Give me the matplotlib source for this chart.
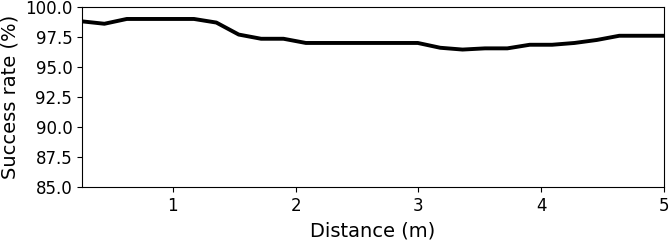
import matplotlib
matplotlib.use('Agg')
import matplotlib.pyplot as plt
import numpy as np

# Distance (m) and success rate (%)
distance = np.linspace(0.26, 5.0, 27)
success = [98.8, 98.6, 99.0, 99.0, 99.0, 99.0, 98.7, 97.7, 97.35, 97.35,
           97.0, 97.0, 97.0, 97.0, 97.0, 97.0, 96.6, 96.45, 96.55, 96.55,
           96.85, 96.85, 97.0, 97.25, 97.6, 97.6, 97.6]

fig = plt.figure(figsize=(6.69, 2.4), dpi=100)
ax = fig.add_axes([0.1226, 0.221, 0.87, 0.75])
ax.plot(distance, success, color='black', linewidth=2.8)
ax.set_xlim(0.26, 5.0)
ax.set_ylim(85, 100)
ax.set_yticks(np.arange(85, 100.1, 2.5))
ax.set_xticks([1, 2, 3, 4, 5])
ax.tick_params(labelsize=12)
ax.set_xlabel('Distance (m)', fontsize=14, labelpad=5)
ax.set_ylabel('Success rate (%)', fontsize=14)

plt.savefig('out.png', dpi=100)
plt.close()
